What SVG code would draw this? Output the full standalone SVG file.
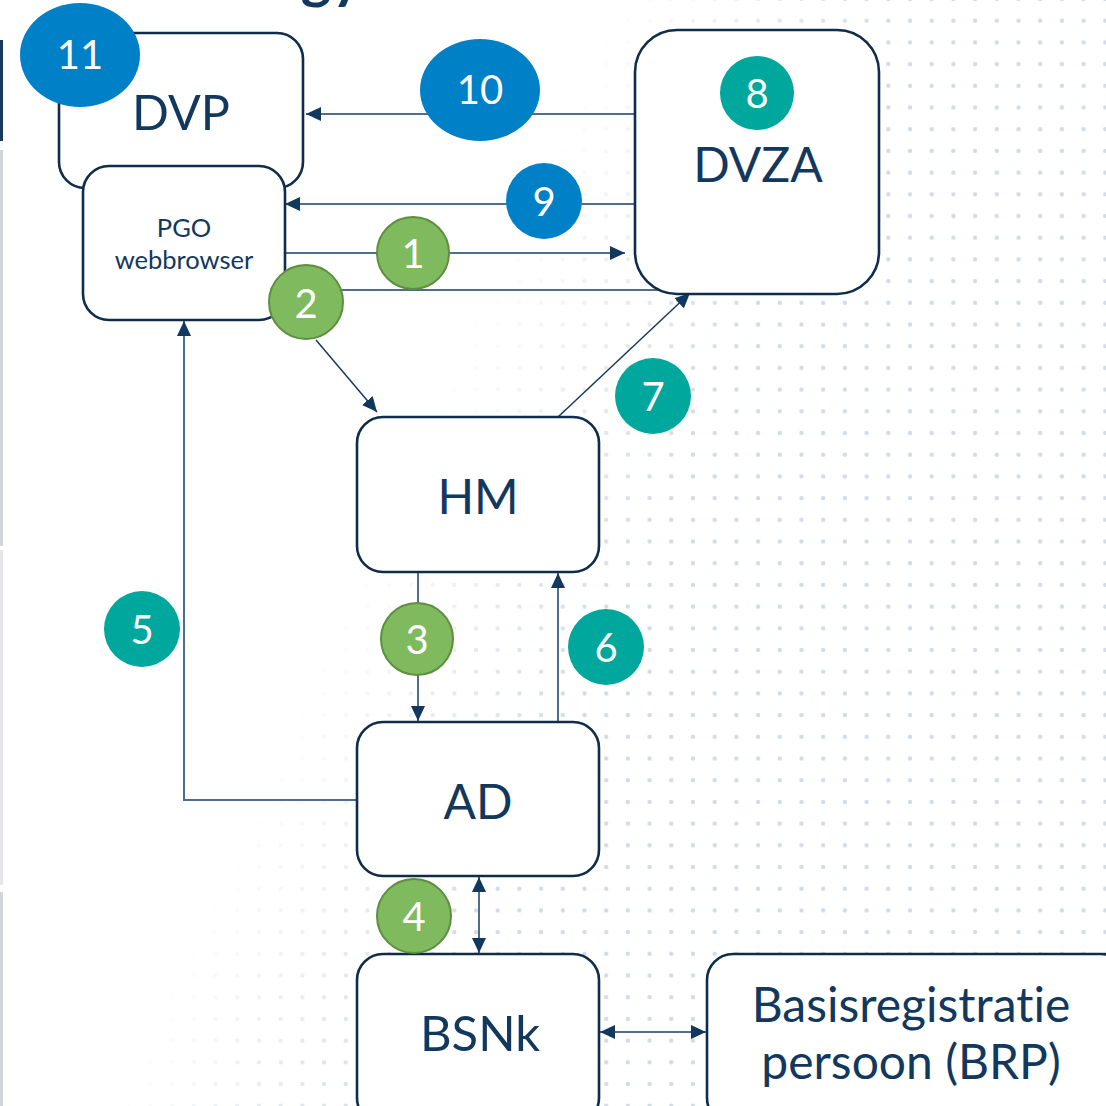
<svg xmlns="http://www.w3.org/2000/svg" width="1106" height="1106" viewBox="0 0 1106 1106">
  <defs>
    <style>
      .box { fill: #ffffff; stroke: #0f2d4b; stroke-width: 2.6; }
      .lbl { font-family: Lato, "Noto Sans", "Liberation Sans", sans-serif; fill: #12385e; text-anchor: middle; font-variant-ligatures: none; }
      .num { font-family: Lato, "Noto Sans", "Liberation Sans", sans-serif; fill: #ffffff; text-anchor: middle; font-size: 40px; }
      .blue { fill: #0080c6; }
      .teal { fill: #00a79d; }
      .green { fill: #7fba5e; stroke: #5e8f3e; stroke-width: 2; }
      .wire { fill: none; stroke: #4f6d8c; stroke-width: 2; }
      .thin { fill: none; stroke: #173a5e; stroke-width: 1.5; }
    </style>
    <marker id="arrow" markerUnits="userSpaceOnUse" markerWidth="16" markerHeight="14" refX="15" refY="7" orient="auto-start-reverse">
      <path d="M0,0 L15,7 L0,14 z" fill="#12385e"/>
    </marker>
    <pattern id="dots" patternUnits="userSpaceOnUse" x="9.45" y="9.85" width="21.7" height="21.7">
      <circle cx="10.85" cy="10.85" r="2.2" fill="#d3dbe4"/>
    </pattern>
    <linearGradient id="fade" gradientUnits="userSpaceOnUse" x1="510" y1="230" x2="740" y2="334">
      <stop offset="0" stop-color="#ffffff" stop-opacity="0"/>
      <stop offset="1" stop-color="#ffffff" stop-opacity="1"/>
    </linearGradient>
    <mask id="fadeMask">
      <rect x="0" y="0" width="1106" height="1106" fill="url(#fade)"/>
    </mask>
  </defs>

  <!-- page background with dotted texture -->
  <rect x="0" y="0" width="1106" height="1106" fill="#ffffff"/>
  <rect x="0" y="0" width="1106" height="1106" fill="url(#dots)" mask="url(#fadeMask)"/>

  <!-- left margin rule -->
  <g id="margin">
    <rect x="0" y="40" width="3" height="101" fill="#1a3a5c"/>
    <rect x="0" y="150" width="3" height="396" fill="#d2d5da"/>
    <rect x="0" y="550" width="3" height="335" fill="#e4e6ea"/>
    <rect x="0" y="892" width="3" height="214" fill="#d2d5da"/>
  </g>

  <!-- title, clipped at the top edge -->
  <text x="362" y="-3" font-family="Lato, 'Noto Sans', 'Liberation Sans', sans-serif" font-weight="bold" font-size="58" fill="#12385e" text-anchor="end">gy</text>

  <!-- connectors -->
  <g id="connectors">
    <line class="wire" x1="635" y1="114" x2="306" y2="114" marker-end="url(#arrow)"/>
    <line class="wire" x1="635" y1="204" x2="285" y2="204" marker-end="url(#arrow)"/>
    <line class="wire" x1="286" y1="253" x2="625" y2="253" marker-end="url(#arrow)"/>
    <line class="wire" x1="286" y1="290" x2="660" y2="290"/>
    <line class="thin" x1="316" y1="340" x2="377" y2="412" marker-end="url(#arrow)"/>
    <line class="thin" x1="558" y1="417" x2="690" y2="293" marker-end="url(#arrow)"/>
    <line class="wire" x1="418" y1="573" x2="418" y2="721" marker-end="url(#arrow)"/>
    <line class="wire" x1="558" y1="721" x2="558" y2="573" marker-end="url(#arrow)"/>
    <polyline class="wire" points="357,800 184,800 184,321" marker-end="url(#arrow)"/>
    <line class="wire" x1="479" y1="877" x2="479" y2="953" marker-start="url(#arrow)" marker-end="url(#arrow)"/>
    <line class="wire" x1="600" y1="1032" x2="706" y2="1032" marker-start="url(#arrow)" marker-end="url(#arrow)"/>
  </g>

  <!-- nodes -->
  <g id="dvp">
    <rect class="box" x="59" y="33" width="244" height="155" rx="26"/>
    <text class="lbl" x="181" y="130" font-size="48.5">DVP</text>
  </g>
  <g id="pgo">
    <rect class="box" x="83" y="166" width="202" height="154" rx="26"/>
    <text class="lbl" x="184" y="237" font-size="25.5">PGO</text>
    <text class="lbl" x="184" y="269" font-size="25.5">webbrowser</text>
  </g>
  <g id="dvza">
    <rect class="box" x="635" y="30" width="244" height="264" rx="42"/>
    <text class="lbl" x="758" y="182" font-size="48">DVZA</text>
  </g>
  <g id="hm">
    <rect class="box" x="357" y="417" width="242" height="155" rx="26"/>
    <text class="lbl" x="478" y="514" font-size="48">HM</text>
  </g>
  <g id="ad">
    <rect class="box" x="357" y="722" width="242" height="154" rx="26"/>
    <text class="lbl" x="478" y="819" font-size="48">AD</text>
  </g>
  <g id="bsnk">
    <rect class="box" x="357" y="954" width="242" height="170" rx="26"/>
    <text class="lbl" x="480" y="1051" font-size="49">BSNk</text>
  </g>
  <g id="brp">
    <rect class="box" x="707" y="954" width="420" height="170" rx="26"/>
    <text class="lbl" x="911" y="1022" font-size="48">Basisregistratie</text>
    <text class="lbl" x="911" y="1079" font-size="48">persoon (BRP)</text>
  </g>

  <!-- step markers -->
  <g id="step-11">
    <ellipse class="blue" cx="80" cy="55" rx="60" ry="52"/>
    <text class="num" x="80" y="69">11</text>
  </g>
  <g id="step-10">
    <ellipse class="blue" cx="480" cy="90" rx="60" ry="51"/>
    <text class="num" x="480" y="104">10</text>
  </g>
  <g id="step-8">
    <circle class="teal" cx="757" cy="93" r="37"/>
    <text class="num" x="757" y="108">8</text>
  </g>
  <g id="step-9">
    <circle class="blue" cx="544" cy="201" r="38"/>
    <text class="num" x="544" y="216">9</text>
  </g>
  <g id="step-1">
    <circle class="green" cx="413" cy="253" r="36"/>
    <text class="num" x="413" y="268">1</text>
  </g>
  <g id="step-2">
    <circle class="green" cx="306" cy="302" r="37"/>
    <text class="num" x="306" y="318">2</text>
  </g>
  <g id="step-7">
    <circle class="teal" cx="653" cy="396" r="38"/>
    <text class="num" x="653" y="411">7</text>
  </g>
  <g id="step-3">
    <circle class="green" cx="417" cy="639" r="36"/>
    <text class="num" x="417" y="654">3</text>
  </g>
  <g id="step-6">
    <circle class="teal" cx="606" cy="647" r="38"/>
    <text class="num" x="606" y="662">6</text>
  </g>
  <g id="step-5">
    <circle class="teal" cx="142" cy="629" r="38"/>
    <text class="num" x="142" y="644">5</text>
  </g>
  <g id="step-4">
    <circle class="green" cx="414" cy="916" r="37"/>
    <text class="num" x="414" y="931">4</text>
  </g>
</svg>
